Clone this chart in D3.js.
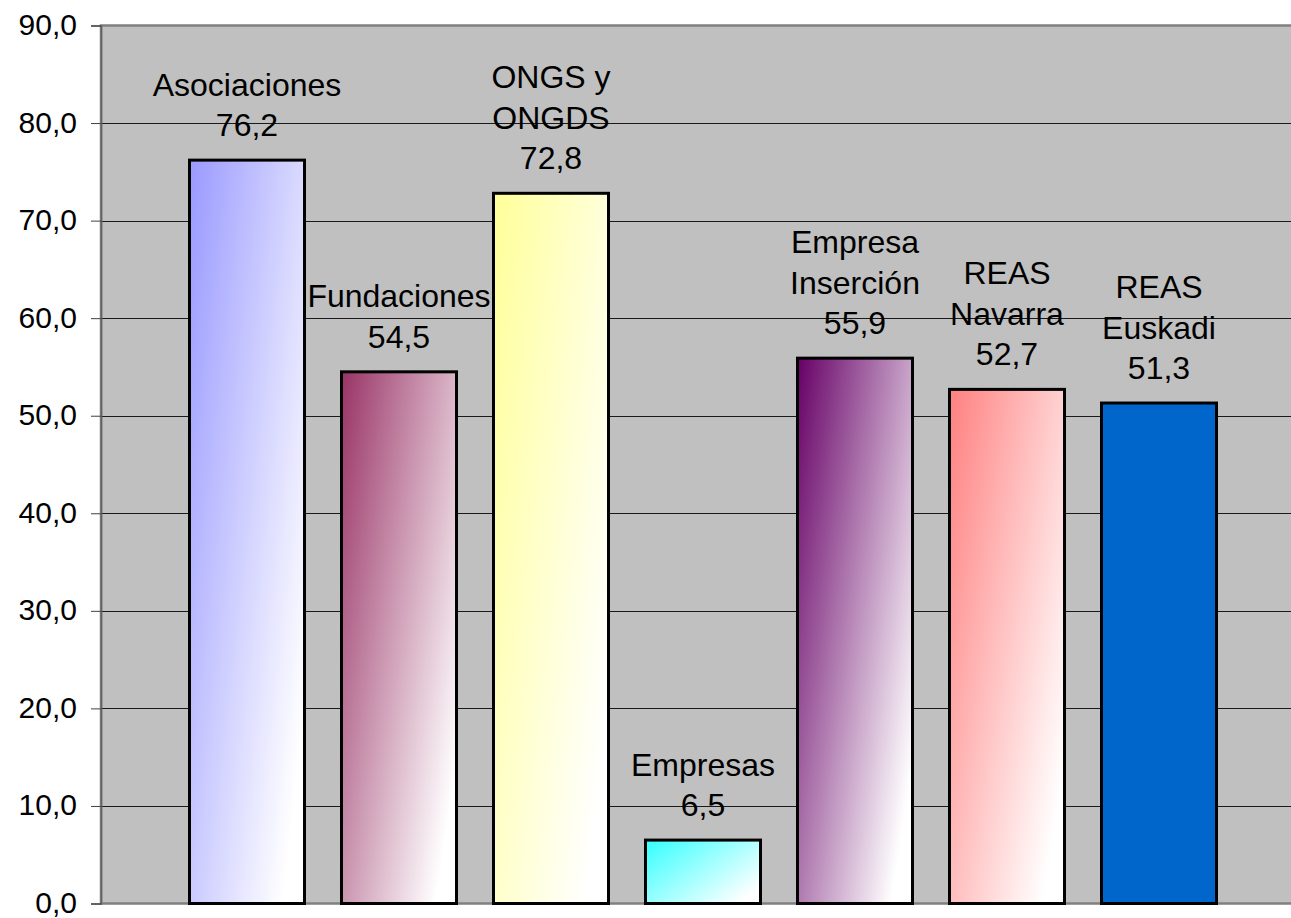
<!DOCTYPE html>
<html>
<head>
<meta charset="utf-8">
<script src="https://cdn.jsdelivr.net/npm/d3@7/dist/d3.min.js"></script>
<style>
  html, body { margin: 0; padding: 0; background: #ffffff; }
  svg { display: block; }
  text { font-family: "Liberation Sans", Arial, sans-serif; fill: #000; }
</style>
</head>
<body>
<svg id="chart" width="1291" height="918"></svg>
<script>
// ---- data ----
const categories = ["Asociaciones", "Fundaciones", "ONGS y ONGDS", "Empresas", "Empresa Inserción", "REAS Navarra", "REAS Euskadi"];
const labelLines = [["Asociaciones"], ["Fundaciones"], ["ONGS y", "ONGDS"], ["Empresas"], ["Empresa", "Inserción"], ["REAS", "Navarra"], ["REAS", "Euskadi"]];
const values = [76.2, 54.5, 72.8, 6.5, 55.9, 52.7, 51.3];
const barColors = ["#9999FF", "#993366", "#FFFF99", "#33FFFF", "#660066", "#FF8080", "#0066CC"];
const gradientBars = [true, true, true, true, true, true, false];
const yTicks = [0, 10, 20, 30, 40, 50, 60, 70, 80, 90];

// ---- layout ----
const svg = d3.select("#chart");
const plot = { left: 101, top: 25.5, right: 1300, bottom: 903.5 };

const y = d3.scaleLinear().domain([0, 90]).range([plot.bottom, plot.top]);
const x = d3.scaleBand().domain(categories).range([171, 1235])
  .paddingInner(34 / 152).paddingOuter(17 / 152);

const locale = d3.formatLocale({ decimal: ",", thousands: ".", grouping: [3], currency: ["", "€"] });
const fmt = locale.format(".1f");

// gradients
const defs = svg.append("defs");
categories.forEach((c, i) => {
  const g = defs.append("linearGradient").attr("id", "grad" + i)
    .attr("x1", 0).attr("y1", 0).attr("x2", 1).attr("y2", 0.75);
  g.append("stop").attr("offset", 0).attr("stop-color", barColors[i]);
  g.append("stop").attr("offset", 1).attr("stop-color", "#ffffff");
});

// plot background
svg.append("rect")
  .attr("x", plot.left).attr("y", plot.top)
  .attr("width", plot.right - plot.left).attr("height", plot.bottom - plot.top)
  .attr("fill", "#C0C0C0").attr("stroke", "#808080").attr("stroke-width", 2.5);

// gridlines
svg.append("g").selectAll("line")
  .data(yTicks.filter(t => t > 0 && t < 90))
  .join("line")
  .attr("x1", plot.left).attr("x2", plot.right)
  .attr("y1", d => Math.round(y(d)) + 0.5).attr("y2", d => Math.round(y(d)) + 0.5)
  .attr("stroke", "#1a1a1a").attr("stroke-width", 1);

// y axis
const yAxis = d3.axisLeft(y).tickValues(yTicks).tickFormat(fmt).tickSize(10).tickPadding(14);
const ga = svg.append("g").attr("transform", `translate(${plot.left},0)`).call(yAxis);
ga.select(".domain").attr("stroke", "#606060").attr("stroke-width", 1.5);
ga.selectAll(".tick line").attr("stroke", "#404040").attr("stroke-width", 1);
ga.selectAll(".tick text").attr("font-size", 30).attr("dy", "0.3em")
  .attr("font-family", "Liberation Sans, Arial, sans-serif").attr("fill", "#000");

// bars
svg.append("g").selectAll("rect")
  .data(values)
  .join("rect")
  .attr("x", (d, i) => x(categories[i]) + 1.5)
  .attr("width", x.bandwidth() - 3)
  .attr("y", d => y(d))
  .attr("height", d => y(0) - y(d))
  .attr("fill", (d, i) => gradientBars[i] ? `url(#grad${i})` : barColors[i])
  .attr("stroke", "#000").attr("stroke-width", 3);

// labels
const lineH = 40.5;
const lg = svg.append("g");
values.forEach((v, i) => {
  const cx = x(categories[i]) + x.bandwidth() / 2;
  const base = y(v) - 24;
  const lines = labelLines[i].concat([fmt(v)]);
  const n = lines.length;
  lines.forEach((t, j) => {
    lg.append("text")
      .attr("x", cx).attr("y", base - (n - 1 - j) * lineH)
      .attr("text-anchor", "middle").attr("font-size", 32)
      .text(t);
  });
});
</script>
</body>
</html>
